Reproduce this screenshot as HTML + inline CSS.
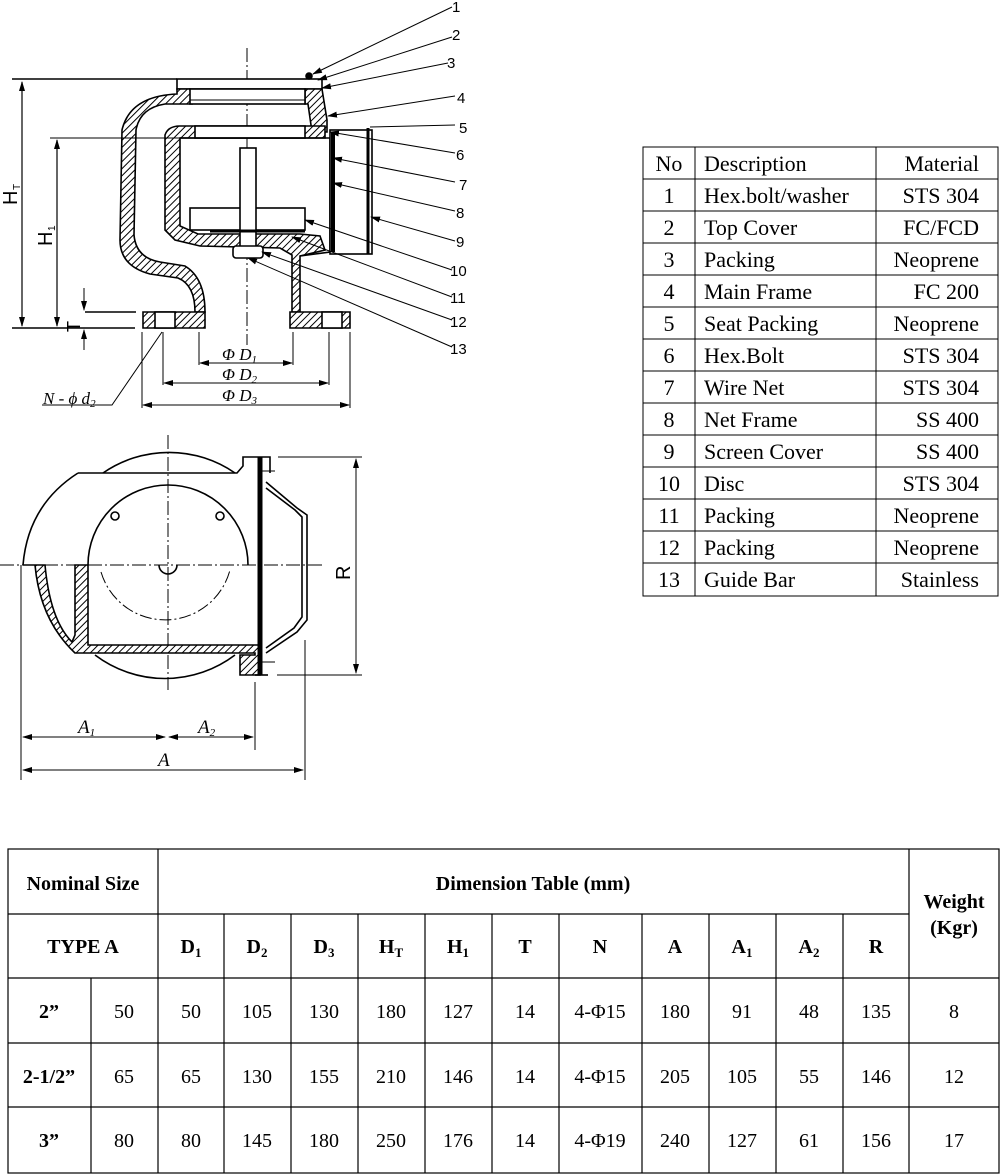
<!DOCTYPE html>
<html><head><meta charset="utf-8"><style>
html,body{margin:0;padding:0;background:#fff;}
svg{display:block;}
</style></head><body>
<svg width="1000" height="1174" viewBox="0 0 1000 1174" xmlns="http://www.w3.org/2000/svg">
<defs>
<pattern id="h" width="5" height="5" patternUnits="userSpaceOnUse" patternTransform="rotate(45)">
<rect width="5" height="5" fill="#fff"/><line x1="0" y1="0" x2="0" y2="5" stroke="#000" stroke-width="2"/>
</pattern>
<marker id="ar" markerWidth="10" markerHeight="8" refX="9" refY="4" orient="auto" markerUnits="userSpaceOnUse"><path d="M0,1 L10,4 L0,7z" fill="#000"/></marker>
<marker id="al" markerWidth="10" markerHeight="8" refX="1" refY="4" orient="auto" markerUnits="userSpaceOnUse"><path d="M10,1 L0,4 L10,7z" fill="#000"/></marker>
</defs>
<g stroke="#000" stroke-width="1.6" fill="none" font-family="Liberation Sans, sans-serif">
<!-- ===== Elevation view ===== -->
<line x1="247" y1="48" x2="247" y2="345" stroke-dasharray="14,3,2,3" stroke-width="1"/>
<rect x="177" y="79" width="145" height="10" fill="#fff"/>
<line x1="12" y1="79" x2="177" y2="79"/>
<circle cx="309" cy="76" r="3" fill="#000"/>
<path d="M177,89 L190,89 L192,104 L165,104 Q140,108 136,130 L134,235 Q136,258 160,262 L185,266 Q205,278 205,312 L195,312 Q195,285 178,278 L150,274 Q120,266 120,240 L122,130 Q130,96 177,94 Z" fill="url(#h)"/>
<path d="M305,89 L322,89 L327,120 L327,132 L312,132 L308,104 L305,104 Z" fill="url(#h)"/>
<rect x="190" y="89" width="115" height="15" fill="#fff"/>
<line x1="190" y1="100" x2="305" y2="100" stroke-width="1"/>
<path d="M190,126 L325,126 L325,138 L180,138 L180,226 L198,234 L300,234 L320,236 L325,250 L300,256 L300,312 L292,312 L292,255 L280,248 L200,246 L175,240 L165,230 L165,135 Q168,126 180,126 Z" fill="url(#h)"/>
<rect x="195" y="126" width="110" height="12" fill="#fff"/>
<path d="M180,138 L325,138 L330,138 L330,252 L300,256"/>
<path d="M143,312 L205,312 L205,328 L143,328 Z" fill="url(#h)"/>
<path d="M290,312 L350,312 L350,328 L290,328 Z" fill="url(#h)"/>
<rect x="155" y="312" width="20" height="16" fill="#fff"/>
<rect x="322" y="312" width="20" height="16" fill="#fff"/>
<rect x="330" y="130" width="42" height="124" fill="#fff"/>
<line x1="333" y1="132" x2="333" y2="252" stroke-width="4"/>
<line x1="368" y1="128" x2="368" y2="254" stroke-width="3"/>
<rect x="190" y="208" width="115" height="22" fill="#fff"/>
<rect x="240" y="148" width="16" height="108" fill="#fff"/>
<rect x="233" y="246" width="30" height="12" rx="3" fill="#fff"/>
<line x1="210" y1="231" x2="305" y2="231" stroke-width="3"/>
<line x1="12" y1="328" x2="135" y2="328"/>
<line x1="22" y1="82" x2="22" y2="326" marker-start="url(#al)" marker-end="url(#ar)" stroke-width="1.2"/>
<line x1="50" y1="138" x2="180" y2="138" stroke-width="1"/>
<line x1="57" y1="140" x2="57" y2="326" marker-start="url(#al)" marker-end="url(#ar)" stroke-width="1.2"/>
<line x1="85" y1="312" x2="136" y2="312"/>
<line x1="84" y1="288" x2="84" y2="310" marker-end="url(#ar)" stroke-width="1"/>
<line x1="84" y1="350" x2="84" y2="330" marker-end="url(#ar)" stroke-width="1"/>
<line x1="142" y1="332" x2="142" y2="408" stroke-width="1"/>
<line x1="163" y1="332" x2="163" y2="385" stroke-width="1"/>
<line x1="199" y1="332" x2="199" y2="365" stroke-width="1"/>
<line x1="293" y1="332" x2="293" y2="365" stroke-width="1"/>
<line x1="329" y1="332" x2="329" y2="385" stroke-width="1"/>
<line x1="350" y1="332" x2="350" y2="408" stroke-width="1"/>
<line x1="200" y1="363" x2="292" y2="363" marker-start="url(#al)" marker-end="url(#ar)" stroke-width="1"/>
<line x1="164" y1="383" x2="328" y2="383" marker-start="url(#al)" marker-end="url(#ar)" stroke-width="1"/>
<line x1="143" y1="405" x2="349" y2="405" marker-start="url(#al)" marker-end="url(#ar)" stroke-width="1"/>
<polyline points="42,405 112,405 162,332" stroke-width="1"/>
<g stroke-width="1">
<line x1="452" y1="7" x2="313" y2="74" marker-end="url(#ar)"/>
<line x1="452" y1="37" x2="318" y2="80" marker-end="url(#ar)"/>
<line x1="448" y1="63" x2="322" y2="88" marker-end="url(#ar)"/>
<line x1="455" y1="96" x2="328" y2="116" marker-end="url(#ar)"/>
<line x1="455" y1="125" x2="370" y2="127"/>
<line x1="455" y1="153" x2="330" y2="132" marker-end="url(#ar)"/>
<line x1="455" y1="182" x2="333" y2="158" marker-end="url(#ar)"/>
<line x1="455" y1="211" x2="333" y2="183" marker-end="url(#ar)"/>
<line x1="455" y1="241" x2="371" y2="217" marker-end="url(#ar)"/>
<line x1="452" y1="270" x2="305" y2="220" marker-end="url(#ar)"/>
<line x1="452" y1="297" x2="292" y2="237" marker-end="url(#ar)"/>
<line x1="452" y1="320" x2="262" y2="252" marker-end="url(#ar)"/>
<line x1="452" y1="347" x2="248" y2="258" marker-end="url(#ar)"/>
</g>
<!-- ===== Plan view ===== -->
<line x1="168" y1="435" x2="168" y2="690" stroke-dasharray="14,3,2,3" stroke-width="1"/>
<line x1="0" y1="565" x2="325" y2="565" stroke-dasharray="14,3,2,3" stroke-width="1"/>
<path d="M103,473 A116,116 0 0 1 235,473"/>
<path d="M78,473 L237,473 L243,466 L243,457 L270,457 L270,473"/>
<path d="M78,473 Q28,505 23,565"/>
<path d="M95,655 A116,116 0 0 0 235,655"/>
<path d="M88,565 A80,80 0 0 1 248,565"/>
<circle cx="115" cy="516" r="4"/><circle cx="220" cy="516" r="4"/>
<path d="M101,572 A67,67 0 0 0 230,570" stroke-dasharray="12,3,2,3" stroke-width="1"/>
<path d="M159,565 A9,9 0 0 0 177,565"/>
<path d="M23,565 L35,565 Q40,620 75,653 L255,653 L255,655 L240,655 L240,675 L260,675 L260,645 L88,645 L88,565 L75,565 L75,635 L72,642 Q50,620 45,565 Z" fill="url(#h)"/>
<line x1="260" y1="457" x2="260" y2="675" stroke-width="5"/>
<line x1="255" y1="675" x2="268" y2="675"/>
<polyline points="266,482 297,508 307,515 307,620 297,632 266,653"/>
<polyline points="266,488 295,510 302,517 302,617 294,628 266,648"/>
<line x1="262" y1="471" x2="275" y2="471" stroke-width="1"/>
<line x1="262" y1="662" x2="275" y2="662" stroke-width="1"/>
<line x1="278" y1="457" x2="362" y2="457" stroke-width="1"/>
<line x1="277" y1="675" x2="362" y2="675" stroke-width="1"/>
<line x1="356" y1="459" x2="356" y2="673" marker-start="url(#al)" marker-end="url(#ar)" stroke-width="1"/>
<line x1="21" y1="565" x2="21" y2="780" stroke-width="1"/>
<line x1="255" y1="682" x2="255" y2="750" stroke-width="1"/>
<line x1="305" y1="640" x2="305" y2="780" stroke-width="1"/>
<line x1="23" y1="737" x2="165" y2="737" marker-start="url(#al)" marker-end="url(#ar)" stroke-width="1"/>
<line x1="169" y1="737" x2="253" y2="737" marker-start="url(#al)" marker-end="url(#ar)" stroke-width="1"/>
<line x1="23" y1="770" x2="303" y2="770" marker-start="url(#al)" marker-end="url(#ar)" stroke-width="1"/>
</g>
<g font-family="Liberation Sans, sans-serif" font-size="15" fill="#000">
<text x="452" y="12">1</text><text x="452" y="40">2</text><text x="447" y="68">3</text><text x="457" y="103">4</text>
<text x="459" y="133">5</text><text x="456" y="160">6</text><text x="459" y="190">7</text><text x="456" y="218">8</text>
<text x="456" y="247">9</text><text x="450" y="276">10</text><text x="450" y="303">11</text><text x="450" y="327">12</text><text x="450" y="354">13</text>
<text transform="translate(17,205) rotate(-90)" font-size="20">H</text><text transform="translate(20,190) rotate(-90)" font-size="10">T</text>
<text transform="translate(52,246) rotate(-90)" font-size="20">H</text><text transform="translate(55,231) rotate(-90)" font-size="10">1</text>
<text transform="translate(80,332) rotate(-90)" font-size="18">T</text>
<text transform="translate(350,580) rotate(-90)" font-size="20">R</text>
</g>
<g font-family="Liberation Serif, serif" font-style="italic" font-size="17" fill="#000">
<text x="222" y="360">Φ D<tspan font-size="11" dy="3">1</tspan></text>
<text x="222" y="380">Φ D<tspan font-size="11" dy="3">2</tspan></text>
<text x="222" y="401">Φ D<tspan font-size="11" dy="3">3</tspan></text>
<text x="43" y="404">N - ϕ d<tspan font-size="11" dy="3">2</tspan></text>
<text x="78" y="733" font-size="19">A<tspan font-size="11" dy="3">1</tspan></text>
<text x="198" y="733" font-size="19">A<tspan font-size="11" dy="3">2</tspan></text>
<text x="158" y="766" font-size="19">A</text>
</g>
<!-- ===== Parts table ===== -->
<g stroke="#000" stroke-width="1" fill="none">
<rect x="643" y="147" width="355" height="449"/>
<line x1="695" y1="147" x2="695" y2="596"/><line x1="876" y1="147" x2="876" y2="596"/>
<line x1="643" y1="179" x2="998" y2="179"/><line x1="643" y1="211" x2="998" y2="211"/><line x1="643" y1="243" x2="998" y2="243"/>
<line x1="643" y1="275" x2="998" y2="275"/><line x1="643" y1="307" x2="998" y2="307"/><line x1="643" y1="339" x2="998" y2="339"/>
<line x1="643" y1="371" x2="998" y2="371"/><line x1="643" y1="403" x2="998" y2="403"/><line x1="643" y1="435" x2="998" y2="435"/>
<line x1="643" y1="467" x2="998" y2="467"/><line x1="643" y1="499" x2="998" y2="499"/><line x1="643" y1="531" x2="998" y2="531"/>
<line x1="643" y1="563" x2="998" y2="563"/>
</g>
<g font-family="Liberation Serif, serif" font-size="22" fill="#000">
<g text-anchor="middle">
<text x="669" y="171">No</text><text x="669" y="203">1</text><text x="669" y="235">2</text><text x="669" y="267">3</text><text x="669" y="299">4</text>
<text x="669" y="331">5</text><text x="669" y="363">6</text><text x="669" y="395">7</text><text x="669" y="427">8</text><text x="669" y="459">9</text>
<text x="669" y="491">10</text><text x="669" y="523">11</text><text x="669" y="555">12</text><text x="669" y="587">13</text>
</g>
<g>
<text x="704" y="171">Description</text><text x="704" y="203">Hex.bolt/washer</text><text x="704" y="235">Top Cover</text>
<text x="704" y="267">Packing</text><text x="704" y="299">Main Frame</text><text x="704" y="331">Seat Packing</text>
<text x="704" y="363">Hex.Bolt</text><text x="704" y="395">Wire Net</text><text x="704" y="427">Net Frame</text>
<text x="704" y="459">Screen Cover</text><text x="704" y="491">Disc</text><text x="704" y="523">Packing</text>
<text x="704" y="555">Packing</text><text x="704" y="587">Guide Bar</text>
</g>
<g text-anchor="end">
<text x="979" y="171">Material</text><text x="979" y="203">STS 304</text><text x="979" y="235">FC/FCD</text>
<text x="979" y="267">Neoprene</text><text x="979" y="299">FC 200</text><text x="979" y="331">Neoprene</text>
<text x="979" y="363">STS 304</text><text x="979" y="395">STS 304</text><text x="979" y="427">SS 400</text>
<text x="979" y="459">SS 400</text><text x="979" y="491">STS 304</text><text x="979" y="523">Neoprene</text>
<text x="979" y="555">Neoprene</text><text x="979" y="587">Stainless</text>
</g>
</g>
<!-- ===== Dimension table ===== -->
<g stroke="#000" stroke-width="1.2" fill="none">
<rect x="8" y="849" width="991" height="324"/>
<line x1="158" y1="849" x2="158" y2="1173"/><line x1="909" y1="849" x2="909" y2="1173"/>
<line x1="8" y1="914" x2="909" y2="914"/><line x1="8" y1="978" x2="999" y2="978"/>
<line x1="8" y1="1043" x2="999" y2="1043"/><line x1="8" y1="1107" x2="999" y2="1107"/>
<line x1="91" y1="978" x2="91" y2="1173"/>
<line x1="224" y1="914" x2="224" y2="1173"/><line x1="291" y1="914" x2="291" y2="1173"/><line x1="358" y1="914" x2="358" y2="1173"/>
<line x1="425" y1="914" x2="425" y2="1173"/><line x1="492" y1="914" x2="492" y2="1173"/><line x1="559" y1="914" x2="559" y2="1173"/>
<line x1="642" y1="914" x2="642" y2="1173"/><line x1="709" y1="914" x2="709" y2="1173"/><line x1="776" y1="914" x2="776" y2="1173"/>
<line x1="843" y1="914" x2="843" y2="1173"/>
</g>
<g font-family="Liberation Serif, serif" font-size="20" fill="#000" text-anchor="middle">
<g font-weight="bold">
<text x="83" y="890">Nominal Size</text>
<text x="533" y="890">Dimension Table (mm)</text>
<text x="954" y="908">Weight</text><text x="954" y="934">(Kgr)</text>
<text x="83" y="953">TYPE A</text>
<text x="191" y="953">D<tspan font-size="13" dy="4">1</tspan></text>
<text x="257" y="953">D<tspan font-size="13" dy="4">2</tspan></text>
<text x="324" y="953">D<tspan font-size="13" dy="4">3</tspan></text>
<text x="391" y="953">H<tspan font-size="13" dy="4">T</tspan></text>
<text x="458" y="953">H<tspan font-size="13" dy="4">1</tspan></text>
<text x="525" y="953">T</text>
<text x="600" y="953">N</text>
<text x="675" y="953">A</text>
<text x="742" y="953">A<tspan font-size="13" dy="4">1</tspan></text>
<text x="809" y="953">A<tspan font-size="13" dy="4">2</tspan></text>
<text x="876" y="953">R</text>
<text x="49" y="1018">2”</text><text x="49" y="1083">2-1/2”</text><text x="49" y="1147">3”</text>
</g>
<g>
<text x="124" y="1018">50</text><text x="191" y="1018">50</text><text x="257" y="1018">105</text><text x="324" y="1018">130</text><text x="391" y="1018">180</text><text x="458" y="1018">127</text><text x="525" y="1018">14</text><text x="600" y="1018">4-Φ15</text><text x="675" y="1018">180</text><text x="742" y="1018">91</text><text x="809" y="1018">48</text><text x="876" y="1018">135</text><text x="954" y="1018">8</text>
<text x="124" y="1083">65</text><text x="191" y="1083">65</text><text x="257" y="1083">130</text><text x="324" y="1083">155</text><text x="391" y="1083">210</text><text x="458" y="1083">146</text><text x="525" y="1083">14</text><text x="600" y="1083">4-Φ15</text><text x="675" y="1083">205</text><text x="742" y="1083">105</text><text x="809" y="1083">55</text><text x="876" y="1083">146</text><text x="954" y="1083">12</text>
<text x="124" y="1147">80</text><text x="191" y="1147">80</text><text x="257" y="1147">145</text><text x="324" y="1147">180</text><text x="391" y="1147">250</text><text x="458" y="1147">176</text><text x="525" y="1147">14</text><text x="600" y="1147">4-Φ19</text><text x="675" y="1147">240</text><text x="742" y="1147">127</text><text x="809" y="1147">61</text><text x="876" y="1147">156</text><text x="954" y="1147">17</text>
</g>
</g>
</svg>
</body></html>
